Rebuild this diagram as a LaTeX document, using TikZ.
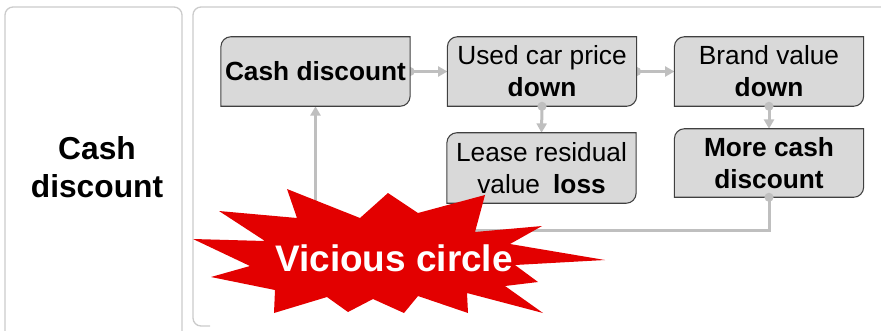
\documentclass[tikz,border=0pt]{standalone}
\usepackage{fontspec}
\setmainfont{Liberation Sans}
\usetikzlibrary{arrows.meta,calc}
\pgfdeclarelayer{bg}
\pgfdeclarelayer{conn}
\pgfdeclarelayer{boxes}
\pgfsetlayers{bg,conn,boxes,main}
\definecolor{boxfill}{HTML}{D9D9D9}
\definecolor{boxline}{HTML}{404040}
\definecolor{connc}{HTML}{BFBFBF}
\definecolor{panelc}{HTML}{CBCBCB}
\definecolor{burst}{HTML}{E30000}
\newcommand\rdbox[1]{%
  \begin{pgfonlayer}{boxes}
  \draw[fill=boxfill, draw=boxline, line width=0.8pt]
    (#1.south west) -- ([yshift=-7.5pt]#1.north west)
    arc[start angle=180,end angle=90,radius=7.5pt] -- (#1.north east)
    -- ([yshift=7.5pt]#1.south east)
    arc[start angle=0,end angle=-90,radius=7.5pt] -- cycle;
  \end{pgfonlayer}}
\begin{document}
\begin{tikzpicture}[x=0.75pt,y=-0.75pt,
  stepnode/.style={inner sep=0pt, align=center, minimum width=141.5pt,
    minimum height=51.75pt, font=\fontsize{19.7}{24}\selectfont},
  conn/.style={draw=connc, line width=2.25pt, -{Triangle[length=7pt,width=7.5pt]}},
  panel/.style={draw=panelc, line width=1pt, rounded corners=6pt},
]
\useasboundingbox (0,0) rectangle (881,330);

% panels
\begin{pgfonlayer}{bg}
  \draw[panel] (5,350) -- (5,7) -- (182,7) -- (182,350);
  \draw[panel] (900,7) -- (193,7) -- (193,326) -- (210,326);
\end{pgfonlayer}

\node[font=\bfseries\fontsize{23.8}{28.5}\selectfont, align=center] (lt) at (97,167) {Cash\\discount};

% boxes
\node[stepnode, font=\bfseries\fontsize{19.7}{24}\selectfont] (cd) at (315.5,71.5) {Cash discount};
\node[stepnode] (uc) at (542,71.5) {Used car price\\\textbf{down}};
\node[stepnode] (bv) at (769,71.5) {Brand value\\\textbf{down}};
\node[stepnode, minimum height=52.5pt] (lr) at (541.5,168) {Lease residual\\value\enspace\textbf{loss}};
\node[stepnode, minimum height=51pt, font=\bfseries\fontsize{19.7}{24}\selectfont] (mc) at (769,163) {More cash\\discount};
\rdbox{cd}\rdbox{uc}\rdbox{bv}\rdbox{lr}\rdbox{mc}

% connectors
\begin{pgfonlayer}{conn}
  \draw[conn] (cd.east) -- (uc.west);
  \draw[conn] (uc.east) -- (bv.west);
  \draw[conn] (uc.south) -- (lr.north);
  \draw[conn] (bv.south) -- (mc.north);
  \draw[conn] (mc.south) -- ++(0,33) -| (cd.south);
  \fill[connc] (cd.east) circle[radius=3.4pt];
  \fill[connc] (uc.east) circle[radius=3.4pt];
\end{pgfonlayer}
\fill[connc] (uc.south) circle[radius=3.4pt];
\fill[connc] (bv.south) circle[radius=3.4pt];
\fill[connc] (mc.south) circle[radius=3.4pt];

% starburst
\fill[burst] (287,189) -- (360,218) -- (388,193) -- (418,213) -- (485,195)
  -- (475,232) -- (542,226) -- (510,244) -- (605,260) -- (515,265)
  -- (538,282) -- (505,286) -- (543,313) -- (467,293) -- (468,313)
  -- (418,296) -- (404,313) -- (373,299) -- (348,312) -- (327,297)
  -- (274,313) -- (275,290) -- (211,277) -- (250,266) -- (193,239)
  -- (265,241) -- (219,211) -- (297,218) -- cycle;
\node[font=\bfseries\fontsize{27.7}{33}\selectfont, text=white] (vc) at (394,258) {Vicious circle};
\end{tikzpicture}
\end{document}
